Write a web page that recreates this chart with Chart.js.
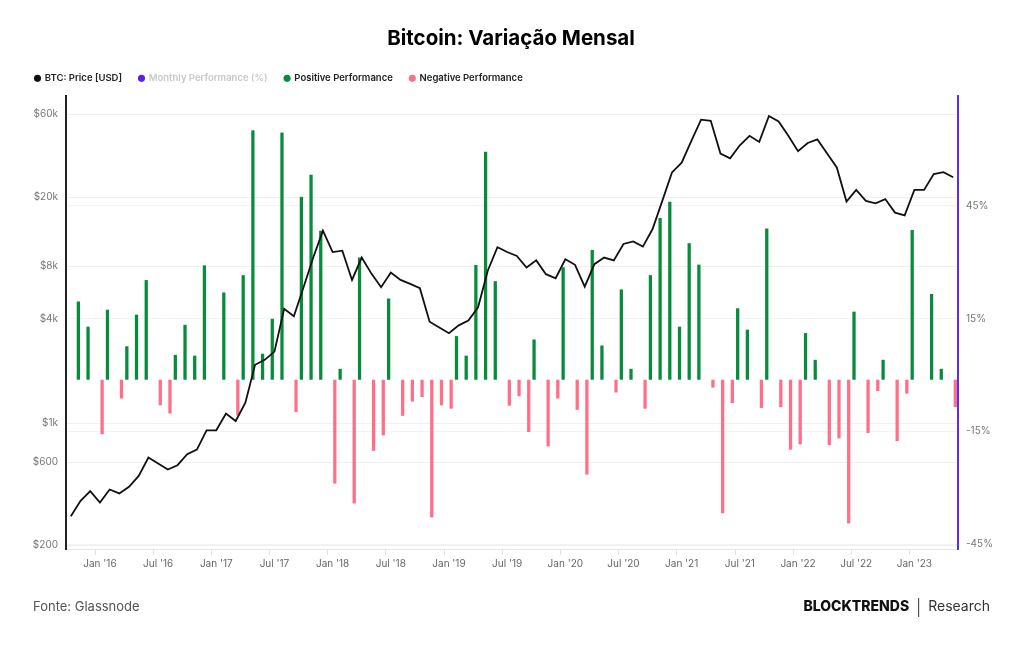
<!DOCTYPE html>
<html>
<head>
<meta charset="utf-8">
<script src="https://cdn.jsdelivr.net/npm/chart.js@4"></script>
<style>
  html, body { margin: 0; padding: 0; background: #fff; }
  #wrap { position: relative; width: 1024px; height: 645px; }
</style>
</head>
<body>
<div id="wrap"><canvas id="canvas"></canvas></div>
<script>
'use strict';

// month categories, Oct 2015 .. May 2023
const months = [
  '2015-10', '2015-11', '2015-12',
  '2016-01', '2016-02', '2016-03', '2016-04', '2016-05', '2016-06', '2016-07', '2016-08', '2016-09', '2016-10', '2016-11', '2016-12',
  '2017-01', '2017-02', '2017-03', '2017-04', '2017-05', '2017-06', '2017-07', '2017-08', '2017-09', '2017-10', '2017-11', '2017-12',
  '2018-01', '2018-02', '2018-03', '2018-04', '2018-05', '2018-06', '2018-07', '2018-08', '2018-09', '2018-10', '2018-11', '2018-12',
  '2019-01', '2019-02', '2019-03', '2019-04', '2019-05', '2019-06', '2019-07', '2019-08', '2019-09', '2019-10', '2019-11', '2019-12',
  '2020-01', '2020-02', '2020-03', '2020-04', '2020-05', '2020-06', '2020-07', '2020-08', '2020-09', '2020-10', '2020-11', '2020-12',
  '2021-01', '2021-02', '2021-03', '2021-04', '2021-05', '2021-06', '2021-07', '2021-08', '2021-09', '2021-10', '2021-11', '2021-12',
  '2022-01', '2022-02', '2022-03', '2022-04', '2022-05', '2022-06', '2022-07', '2022-08', '2022-09', '2022-10', '2022-11', '2022-12',
  '2023-01', '2023-02', '2023-03', '2023-04', '2023-05',
];

// BTC price [USD]
const price = [
  293, 359, 408, 351, 417, 396, 432, 499, 636, 588,
  543, 575, 665, 707, 913, 913, 1138, 1032, 1317, 2172,
  2320, 2586, 4560, 4126, 6060, 8980, 12820, 9660, 9830, 6680,
  8980, 7260, 6060, 7360, 6680, 6340, 5990, 3840, 3560, 3300,
  3660, 3900, 4650, 7540, 10290, 9660, 9170, 7870, 8650, 7210,
  6830, 8780, 8160, 6110, 8230, 8980, 8650, 10750, 11120, 10380,
  13100, 19020, 27700, 31540, 42100, 55700, 54900, 35600, 33400, 39700,
  45000, 41500, 58500, 54400, 45000, 36700, 40900, 42900, 35600, 29600,
  18840, 22000, 19020, 18420, 19480, 16280, 15700, 22000, 22000, 27100,
  27800, 26000,
];

// monthly performance in %
const perf = [
  null, 20.8, 14.1, -14.5, 18.6, -5.0, 8.9, 17.3, 26.5, -6.8,
  -9.0, 6.6, 14.6, 6.4, 30.4, 0, 23.2, -9.5, 27.8, 66.3,
  6.9, 16.2, 65.7, -8.6, 48.6, 54.5, 39.6, -27.6, 2.9, -32.9,
  32.5, -18.9, -14.8, 21.6, -9.6, -5.8, -4.6, -36.6, -6.8, -7.7,
  11.6, 6.4, 30.5, 60.6, 26.2, -6.9, -4.4, -13.9, 10.7, -17.7,
  -5.0, 29.9, -8.0, -25.2, 34.5, 9.1, -3.4, 24.0, 2.9, -7.7,
  27.8, 43.0, 47.3, 14.1, 36.3, 30.6, -2.1, -35.5, -6.2, 19.0,
  13.3, -7.5, 40.2, -7.3, -18.6, -17.2, 12.4, 5.3, -17.4, -15.6,
  -38.2, 18.1, -14.2, -3.0, 5.3, -16.3, -3.7, 39.8, 0, 22.8,
  2.9, -7.3,
];

const priceTicks = [200, 600, 1000, 4000, 8000, 20000, 60000];
const perfTicks = [-45, -15, 15, 45];
const monthNames = { '01': 'Jan', '07': 'Jul' };

const positive = perf.map((v) => (v > 0 ? v : null));
const negative = perf.map((v) => (v < 0 ? v : null));

Chart.defaults.font.family = 'Inter';

// a bit of space between legend and plot area
const legendGap = {
  id: 'legendGap',
  beforeInit(chart) {
    const fit = chart.legend.fit;
    chart.legend.fit = function () {
      fit.bind(chart.legend)();
      this.height += 3;
    };
  },
};

const footer = {
  id: 'footer',
  afterDraw(chart) {
    const c = chart.ctx;
    c.save();
    c.textBaseline = 'middle';
    c.fillStyle = '#555';
    c.font = '13px Inter';
    c.textAlign = 'left';
    c.fillText('Fonte: Glassnode', 33, 607);

    c.textAlign = 'right';
    c.fillStyle = '#333';
    c.font = '14px Inter';
    c.fillText('Research', 990, 607);
    const sep = 990 - c.measureText('Research').width - 10;
    c.strokeStyle = '#333';
    c.lineWidth = 1;
    c.beginPath();
    c.moveTo(sep + 0.5, 598);
    c.lineTo(sep + 0.5, 617);
    c.stroke();
    c.fillStyle = '#111';
    c.font = '800 14px Inter';
    c.fillText('BLOCKTRENDS', sep - 9, 607);
    c.restore();
  },
};

const ctx = document.getElementById('canvas').getContext('2d');

new Chart(ctx, {
  type: 'bar',
  data: {
    labels: months,
    datasets: [
      {
        type: 'line',
        label: 'BTC: Price [USD]',
        data: price,
        yAxisID: 'yPrice',
        borderColor: '#111',
        backgroundColor: '#111',
        borderWidth: 1.8,
        pointRadius: 0,
        tension: 0,
      },
      {
        type: 'line',
        label: 'Monthly Performance (%)',
        data: perf,
        yAxisID: 'yPerf',
        hidden: true,
        borderColor: '#5a1df5',
        backgroundColor: '#5a1df5',
        pointRadius: 0,
      },
      {
        label: 'Positive Performance',
        data: positive,
        yAxisID: 'yBar',
        backgroundColor: '#078c3c',
        categoryPercentage: 0.9,
        barPercentage: 0.75,
      },
      {
        label: 'Negative Performance',
        data: negative,
        yAxisID: 'yBar',
        backgroundColor: '#ff6f87',
        categoryPercentage: 0.9,
        barPercentage: 0.75,
      },
    ],
  },
  options: {
    responsive: true,
    maintainAspectRatio: false,
    animation: false,
    layout: {
      padding: { left: 18, right: 20, top: 0, bottom: 66 },
    },
    scales: {
      x: {
        offset: true,
        grid: {
          drawOnChartArea: false,
          tickLength: 6,
          color: (c) => (monthNames[(months[c.index] || '').slice(5)] ? '#e2e2e2' : 'rgba(0,0,0,0)'),
        },
        border: { color: '#e6e6e6' },
        ticks: {
          autoSkip: false,
          maxRotation: 0,
          padding: 3,
          color: '#666',
          font: { size: 10 },
          callback(value) {
            const m = months[value];
            const name = monthNames[m.slice(5)];
            return name ? name + " '" + m.slice(2, 4) : '';
          },
        },
        afterFit(scale) { scale.height = 30; },
      },
      yPrice: {
        type: 'logarithmic',
        position: 'left',
        min: 189.7,
        max: 76100,
        bounds: 'data',
        afterBuildTicks(scale) { scale.ticks = priceTicks.map((v) => ({ value: v })); },
        afterFit(scale) { scale.width = 48; },
        grid: { color: '#f0f0f0', drawTicks: false },
        border: { color: '#222', width: 2 },
        ticks: {
          padding: 8,
          color: '#777',
          font: { size: 10 },
          callback: (v) => (v >= 1000 ? '$' + v / 1000 + 'k' : '$' + v),
        },
      },
      yPerf: {
        type: 'linear',
        position: 'right',
        min: -46.3,
        max: 74.2,
        bounds: 'data',
        afterBuildTicks(scale) { scale.ticks = perfTicks.map((v) => ({ value: v })); },
        afterFit(scale) { scale.width = 46; },
        grid: { color: '#f3f3f3', drawTicks: false },
        border: { color: '#5b2cf2', width: 2 },
        ticks: {
          padding: 8,
          color: '#777',
          font: { size: 10 },
          callback: (v) => v + '%',
        },
      },
      yBar: {
        type: 'linear',
        display: false,
        min: -45,
        max: 75.4,
      },
    },
    plugins: {
      title: {
        display: true,
        text: 'Bitcoin: Variação Mensal',
        color: '#000',
        font: { size: 20.5, weight: 'bold' },
        padding: { top: 27, bottom: 5 },
      },
      legend: {
        position: 'top',
        align: 'start',
        labels: {
          usePointStyle: true,
          pointStyle: 'circle',
          boxWidth: 5,
          boxHeight: 5,
          padding: 17,
          color: '#222',
          font: { size: 9.5, weight: '600' },
          generateLabels(chart) {
            const items = Chart.defaults.plugins.legend.labels.generateLabels(chart);
            return items.map((it) => {
              it.lineWidth = 0;
              it.pointStyle = 'circle';
              if (it.datasetIndex === 1) {
                it.hidden = false;
                it.fontColor = '#c8c8c8';
              }
              return it;
            });
          },
        },
      },
      tooltip: { enabled: false },
    },
  },
  plugins: [footer, legendGap],
});
</script>
</body>
</html>
